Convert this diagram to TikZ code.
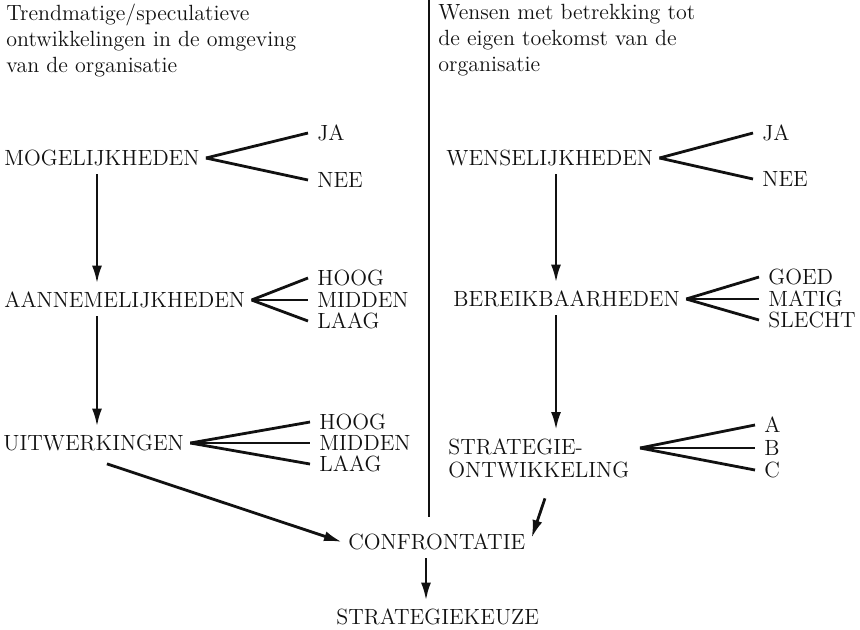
\documentclass[tikz,border=0pt]{standalone}
\usepackage{xcolor}
\usetikzlibrary{arrows.meta}
\definecolor{schemaink}{HTML}{111111}

\begin{document}
\begin{tikzpicture}[x=0.5pt,y=-0.5pt,
  point/.style={coordinate},
  word/.style={text=schemaink, font=\fontsize{11}{13}\selectfont, inner ysep=3.75pt},
  term/.style={word, anchor=west, inner xsep=2.5pt, text height=7.5pt, text depth=0pt},
  choice/.style={word, anchor=west, inner xsep=4pt, inner ysep=0pt, text height=7.5pt, text depth=0pt},
  header/.style={word, anchor=north west, inner sep=0pt, align=left},
  flow/.style={-{Latex[length=9pt,width=5pt]}},
  every path/.style={draw=schemaink, line width=1.4pt}]
\path[use as bounding box, draw=none] (0,0) rectangle (860,629);
% kopteksten
\node[header] (trend) at (5,3) {Trendmatige/speculatieve\\ontwikkelingen in de omgeving\\van de organisatie};
\node[header] (wens)  at (437,3) {Wensen met betrekking tot\\de eigen toekomst van de\\organisatie};
\node[point] (divtop) at (429,0) {};
\node[point] (divbot) at (429,517) {};
\draw (divtop) -- (divbot);
% linker kolom
\node[term] (mog) at (-2,158) {MOGELIJKHEDEN};
\node[term] (aan) at (-2,300) {AANNEMELIJKHEDEN};
\node[term] (uit) at (-3,443) {UITWERKINGEN};
\node[choice] (ja)  at (308,133) {JA};
\node[choice] (nee) at (308,180) {NEE};
\node[choice] (hoogA)   at (308,278) {HOOG};
\node[choice] (middenA) at (308,300) {MIDDEN};
\node[choice] (laagA)   at (308,321) {LAAG};
\node[choice] (hoogU)   at (310,422) {HOOG};
\node[choice] (middenU) at (310,443) {MIDDEN};
\node[choice] (laagU)   at (310,464) {LAAG};
\node[point] (colL) at (97,0) {};
% rechter kolom
\node[term] (wen) at (440,158) {WENSELIJKHEDEN};
\node[term] (ber) at (447,299) {BEREIKBAARHEDEN};
\node[word, anchor=west, inner xsep=2.5pt, align=left, font=\fontsize{11}{11.5}\selectfont]
  (strat) at (442,458.5) {STRATEGIE-\\ONTWIKKELING};
\node[choice] (jaR)  at (753,133) {JA};
\node[choice] (neeR) at (753,179) {NEE};
\node[choice] (goed)   at (759,277) {GOED};
\node[choice] (matig)  at (759,299) {MATIG};
\node[choice] (slecht) at (759,320) {SLECHT};
\node[choice] (optA) at (755,425) {A};
\node[choice] (optB) at (755,448) {B};
\node[choice] (optC) at (755,470) {C};
\node[point] (colR) at (556,0) {};
\node[point] (stratTip) at (640,448) {};
% onderaan
\node[term] (conf)  at (342,542) {CONFRONTATIE};
\node[term] (keuze) at (330,617) {STRATEGIEKEUZE};
\node[point] (colM) at (426,0) {};
% vertakkingen
\draw (mog.east) -- (ja.west);
\draw (mog.east) -- (nee.west);
\draw (aan.east) -- (hoogA.west);
\draw (aan.east) -- (middenA.west);
\draw (aan.east) -- (laagA.west);
\draw (uit.east) -- (hoogU.west);
\draw (uit.east) -- (middenU.west);
\draw (uit.east) -- (laagU.west);
\draw (wen.east) -- (jaR.west);
\draw (wen.east) -- (neeR.west);
\draw (ber.east) -- (goed.west);
\draw (ber.east) -- (matig.west);
\draw (ber.east) -- (slecht.west);
\draw (stratTip) -- (optA.west);
\draw (stratTip) -- (optB.west);
\draw (stratTip) -- (optC.west);
% pijlen
\draw[flow] (mog.south -| colL) -- (aan.north -| colL);
\draw[flow] (aan.south -| colL) -- (uit.north -| colL);
\draw[flow] (wen.south -| colR) -- (ber.north -| colR);
\draw[flow] (ber.south -| colR) -- (strat.north -| colR);
\draw[flow, shorten <=7pt] (uit.south) -- (conf.west);
\draw[flow, shorten <=6pt] ([xshift=5pt]strat.south) -- ([yshift=2pt]conf.east);
\draw[flow] (conf.south -| colM) -- (keuze.north -| colM);
\end{tikzpicture}
\end{document}
